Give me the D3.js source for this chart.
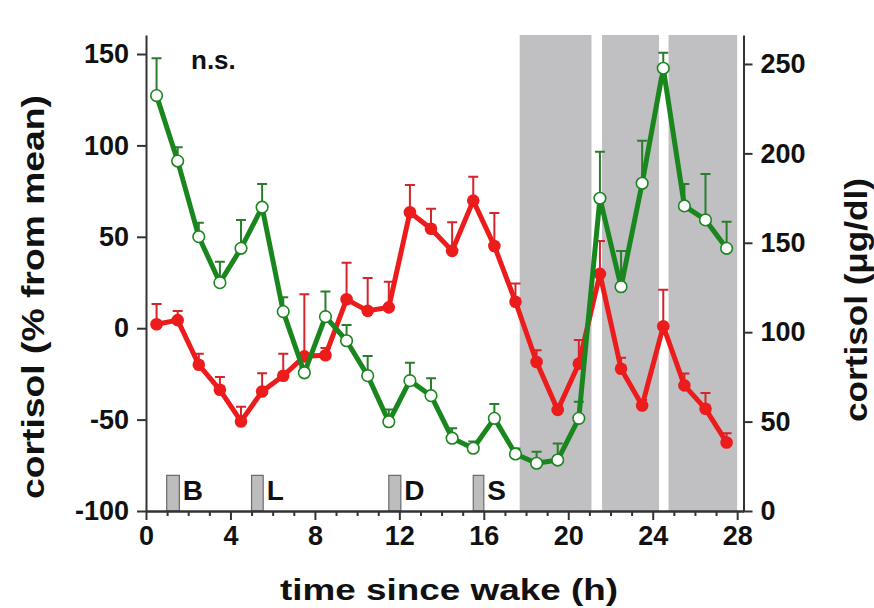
<!DOCTYPE html>
<html>
<head>
<meta charset="utf-8">
<script src="https://cdn.jsdelivr.net/npm/d3@7"></script>
<style>
  body { margin: 0; background: #fff; }
  svg text { font-family: "Liberation Sans", Arial, sans-serif; font-weight: bold; fill: #111; }
  .axis path, .axis line { stroke: #333; stroke-width: 2; }
</style>
</head>
<body>
<div id="chart"></div>
<script>
// sample times (h since wake)
const hours = [0.5, 1.5, 2.5, 3.5, 4.5, 5.5, 6.5, 7.5, 8.5, 9.5, 10.5, 11.5, 12.5, 13.5,
               14.5, 15.5, 16.5, 17.5, 18.5, 19.5, 20.5, 21.5, 22.5, 23.5, 24.5, 25.5, 26.5, 27.5];

// red series, % from mean (left axis)
const redPct = [2.2, 4.4, -20, -33.7, -51, -34.6, -26, -15.4, -14.8, 15.8, 9.5, 11.4, 63.4, 54.4,
                42.3, 69.8, 45, 14.5, -18.5, -44.7, -19.4, 29.7, -22.2, -42.3, 1.1, -31.3, -44.1, -62.5];
const redErr = [11, 5, 6, 7, 8, 10, 12, 34, 4, 20, 18, 14, 15, 11,
                15.6, 13, 18, 10, 6.5, 3, 13, 18, 6, 3, 20, 6.5, 8.6, 5];

// green series, ug/dl (right axis)
const greenUg = [232.3, 195.7, 153.4, 127.7, 146.9, 169.9, 111.5, 77.3, 108.7, 95.2, 75.7, 49.9, 72.9, 64.5,
                 40.7, 35.1, 51.8, 31.9, 26.7, 28.5, 51.8, 174.9, 125.4, 183.3, 247.6, 170.6, 162.8, 146.9];
const greenErr = [20.9, 7.7, 7.8, 11.7, 15.8, 13, 8, 3, 14, 8.8, 11, 6.9, 10, 9.7,
                  5.6, 3.7, 8, 3, 6.5, 9.3, 9.3, 26, 20, 23.7, 8.7, 12.3, 25.6, 14.9];

// sleep periods (grey bands) and meals
const sleepStart = [17.7, 21.6, 24.75];
const sleepEnd = [21.1, 24.3, 28.0];
const mealLabels = ["B", "L", "D", "S"];
const mealStart = [0.98, 5.0, 11.5, 15.5];
const mealEnd = [1.58, 5.55, 12.07, 16.0];

// tick labels
const xTicks = [0, 4, 8, 12, 16, 20, 24, 28];
const xMinor = [1, 2, 3, 5, 6, 7, 9, 10, 11, 13, 14, 15, 17, 18, 19, 21, 22, 23, 25, 26, 27];
const leftTicks = [-100, -50, 0, 50, 100, 150];
const rightTicks = [0, 50, 100, 150, 200, 250];

/** Class drawing the cortisol time course chart. */
class CortisolChart {

    constructor() {
        this.width = 874;
        this.height = 608;
        this.svg = d3.select("#chart").append("svg")
            .attr("width", this.width)
            .attr("height", this.height);

        this.x = d3.scaleLinear().domain([0, 28.3]).range([146, 743.5]);
        this.yL = d3.scaleLinear().domain([-100, 160.4]).range([511, 35]);
        this.yR = d3.scaleLinear().domain([0, 266.2]).range([511, 35]);
    }

    drawBackground() {
        let x = this.x, yL = this.yL;
        this.svg.append("g").selectAll("rect")
            .data(sleepStart)
            .join("rect")
            .attr("x", d => x(d))
            .attr("width", (d, i) => x(sleepEnd[i]) - x(d))
            .attr("y", yL.range()[1])
            .attr("height", yL.range()[0] - yL.range()[1])
            .attr("fill", "#c0bfc2");

        // meal markers at the bottom
        let meals = this.svg.append("g");
        meals.selectAll("rect")
            .data(mealStart)
            .join("rect")
            .attr("x", d => x(d))
            .attr("width", (d, i) => x(mealEnd[i]) - x(d))
            .attr("y", yL(-80.5))
            .attr("height", yL(-100) - yL(-80.5))
            .attr("fill", "#bdbdbd")
            .attr("stroke", "#6a6a6a")
            .attr("stroke-width", 1.2);
        meals.selectAll("text")
            .data(mealLabels)
            .join("text")
            .attr("x", (d, i) => x(mealEnd[i]) + 3.5)
            .attr("y", yL(-94))
            .attr("font-size", 28)
            .text(d => d);
    }

    drawAxes() {
        let x = this.x, yL = this.yL, yR = this.yR;
        let bottom = yL.range()[0];
        let plain = d => String(d);   // keep a short hyphen for negatives

        this.svg.append("g").attr("class", "axis")
            .attr("transform", `translate(0,${bottom})`)
            .call(d3.axisBottom(x).tickValues(xMinor).tickSize(5).tickFormat("").tickSizeOuter(0));

        let xa = this.svg.append("g").attr("class", "axis")
            .attr("transform", `translate(0,${bottom})`)
            .call(d3.axisBottom(x).tickValues(xTicks).tickSize(9).tickPadding(6).tickSizeOuter(0).tickFormat(plain));
        xa.selectAll("text").attr("font-size", 27).attr("dy", "0.72em");

        let la = this.svg.append("g").attr("class", "axis")
            .attr("transform", `translate(${x(0)},0)`)
            .call(d3.axisLeft(yL).tickValues(leftTicks).tickSize(9).tickPadding(8).tickSizeOuter(0).tickFormat(plain));
        la.selectAll("text").attr("font-size", 27);

        let ra = this.svg.append("g").attr("class", "axis")
            .attr("transform", `translate(${x.range()[1]},0)`)
            .call(d3.axisRight(yR).tickValues(rightTicks).tickSize(9).tickPadding(8).tickSizeOuter(0).tickFormat(plain));
        ra.selectAll("text").attr("font-size", 27);

        // axis titles
        this.svg.append("text")
            .attr("x", 449).attr("y", 600)
            .attr("text-anchor", "middle")
            .attr("font-size", 29)
            .attr("textLength", 338).attr("lengthAdjust", "spacingAndGlyphs")
            .text("time since wake (h)");

        this.svg.append("text")
            .attr("transform", "translate(44,297) rotate(-90)")
            .attr("text-anchor", "middle")
            .attr("font-size", 31)
            .attr("textLength", 404).attr("lengthAdjust", "spacingAndGlyphs")
            .text("cortisol (% from mean)");

        this.svg.append("text")
            .attr("transform", "translate(867,300) rotate(-90)")
            .attr("text-anchor", "middle")
            .attr("font-size", 31)
            .attr("textLength", 244).attr("lengthAdjust", "spacingAndGlyphs")
            .text("cortisol (\u03bcg/dl)");

        this.svg.append("text")
            .attr("x", 191).attr("y", 69)
            .attr("font-size", 26)
            .text("n.s.");
    }

    /**
     * Draws one series: upper error bars, line and markers.
     */
    drawSeries(values, errs, y, color, errColor, open) {
        let x = this.x;
        let g = this.svg.append("g");
        let capW = 5;

        g.selectAll(".err")
            .data(values)
            .join("path")
            .attr("d", (d, i) => {
                let cx = x(hours[i]), top = y(d + errs[i]);
                return `M${cx},${y(d)}V${top}M${cx - capW},${top}H${cx + capW}`;
            })
            .attr("stroke", errColor)
            .attr("stroke-width", 2)
            .attr("fill", "none");

        let line = d3.line()
            .x((d, i) => x(hours[i]))
            .y(d => y(d));
        g.append("path")
            .datum(values)
            .attr("d", line)
            .attr("fill", "none")
            .attr("stroke", color)
            .attr("stroke-width", 5)
            .attr("stroke-linejoin", "round");

        g.selectAll("circle")
            .data(values)
            .join("circle")
            .attr("cx", (d, i) => x(hours[i]))
            .attr("cy", d => y(d))
            .attr("r", open ? 5.8 : 6.3)
            .attr("fill", open ? "#fff" : color)
            .attr("stroke", color)
            .attr("stroke-width", open ? 1.6 : 0);
    }

    update() {
        this.drawBackground();
        this.drawSeries(redPct, redErr, this.yL, "#ec1c1c", "#d3252b", false);
        this.drawSeries(greenUg, greenErr, this.yR, "#1a861e", "#2a7d2c", true);
        this.drawAxes();
    }
}

let chart = new CortisolChart();
chart.update();
</script>
</body>
</html>
